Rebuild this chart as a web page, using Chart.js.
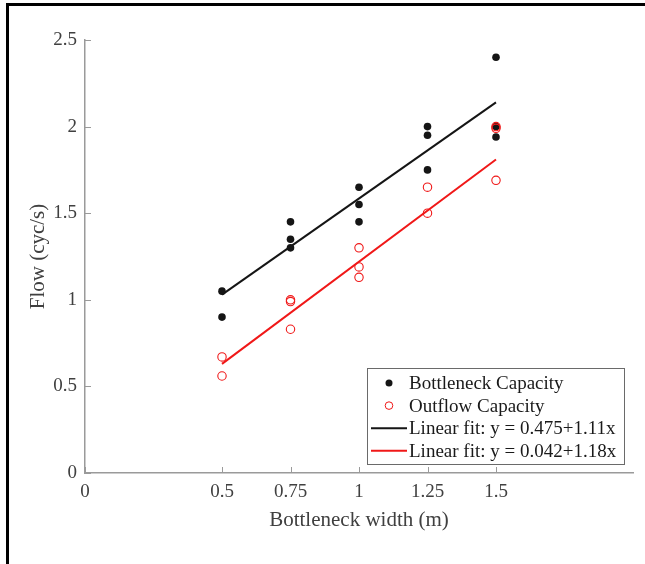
<!DOCTYPE html>
<html>
<head>
<meta charset="utf-8">
<script src="https://cdn.jsdelivr.net/npm/chart.js@4"></script>
<style>
  html, body { margin: 0; padding: 0; background: #fff; }
  #wrap { position: relative; width: 645px; height: 564px; overflow: hidden; }
  #frame { position: absolute; left: 6px; top: 3px; width: 700px; height: 700px;
           border-top: 3px solid #000; border-left: 3px solid #000; pointer-events: none; }
</style>
</head>
<body>
<div id="wrap">
  <canvas id="chart" width="645" height="564"></canvas>
  <div id="frame"></div>
</div>
<script>
// measured points
const bottleneckX = [0.5, 0.5, 0.75, 0.75, 0.75, 1, 1, 1, 1.25, 1.25, 1.25, 1.5, 1.5, 1.5];
const bottleneckY = [1.05, 0.90, 1.45, 1.35, 1.30, 1.65, 1.55, 1.45, 2.00, 1.95, 1.75, 2.40, 2.00, 1.94];
const outflowX = [0.5, 0.5, 0.75, 0.75, 0.75, 1, 1, 1, 1.25, 1.25, 1.5, 1.5, 1.5];
const outflowY = [0.67, 0.56, 1.00, 0.99, 0.83, 1.30, 1.19, 1.13, 1.65, 1.50, 2.00, 1.99, 1.69];

// fit line end points
const fitX = [0.5, 1.5];
const fitBottleneckY = [1.03, 2.14];
const fitOutflowY = [0.63, 1.81];

const xTicks = [0, 0.5, 0.75, 1, 1.25, 1.5];
const yTicks = [0, 0.5, 1, 1.5, 2, 2.5];

const legendLabels = ['Bottleneck Capacity', 'Outflow Capacity',
                      'Linear fit: y = 0.475+1.11x', 'Linear fit: y = 0.042+1.18x'];

const FONT = '"Liberation Serif", "Times New Roman", serif';
const textColor = '#404040';
const axisColor = '#9a9a9a';
const red = '#f01818';
const black = '#151515';

function toPoints(xs, ys) {
    return xs.map((x, i) => ({ x: x, y: ys[i] }));
}

// ticks drawn on the inside of the axes, MATLAB style
const innerTicks = {
    id: 'innerTicks',
    afterDraw(chart) {
        const ctx = chart.ctx;
        const xs = chart.scales.x, ys = chart.scales.y;
        const a = chart.chartArea;
        ctx.save();
        ctx.strokeStyle = axisColor;
        ctx.lineWidth = 1;
        xTicks.forEach(v => {
            const px = Math.round(xs.getPixelForValue(v)) + 0.5;
            ctx.beginPath();
            ctx.moveTo(px, a.bottom);
            ctx.lineTo(px, a.bottom - 6);
            ctx.stroke();
        });
        yTicks.forEach(v => {
            const py = Math.round(ys.getPixelForValue(v)) + 0.5;
            ctx.beginPath();
            ctx.moveTo(a.left, py);
            ctx.lineTo(a.left + 6, py);
            ctx.stroke();
        });
        ctx.restore();
    }
};

const boxLegend = {
    id: 'boxLegend',
    afterDraw(chart) {
        const ctx = chart.ctx;
        const a = chart.chartArea;
        const left = a.right - 266, top = a.bottom - 105, w = 257, h = 96;
        ctx.save();
        ctx.fillStyle = '#fff';
        ctx.fillRect(left, top, w, h);
        ctx.strokeStyle = '#6a6a6a';
        ctx.lineWidth = 1;
        ctx.strokeRect(left + 0.5, top + 0.5, w, h);
        ctx.font = '19px ' + FONT;
        ctx.textBaseline = 'middle';
        const rowH = 22.6;
        legendLabels.forEach((label, i) => {
            const cy = top + 15 + i * rowH;
            if (i === 0) {
                ctx.beginPath();
                ctx.fillStyle = black;
                ctx.arc(left + 22, cy, 3.5, 0, Math.PI * 2);
                ctx.fill();
            } else if (i === 1) {
                ctx.beginPath();
                ctx.strokeStyle = red;
                ctx.arc(left + 22, cy, 3.8, 0, Math.PI * 2);
                ctx.stroke();
            } else {
                ctx.beginPath();
                ctx.strokeStyle = i === 2 ? black : red;
                ctx.lineWidth = 2;
                ctx.moveTo(left + 4, cy);
                ctx.lineTo(left + 40, cy);
                ctx.stroke();
                ctx.lineWidth = 1;
            }
            ctx.fillStyle = '#1a1a1a';
            ctx.fillText(label, left + 42, cy + 1);
        });
        ctx.restore();
    }
};

const ctx = document.getElementById('chart').getContext('2d');
const chart = new Chart(ctx, {
    type: 'scatter',
    data: {
        datasets: [
            {
                label: legendLabels[2],
                data: toPoints(fitX, fitBottleneckY),
                showLine: true,
                borderColor: black,
                borderWidth: 2,
                pointRadius: 0,
                order: 3
            },
            {
                label: legendLabels[3],
                data: toPoints(fitX, fitOutflowY),
                showLine: true,
                borderColor: red,
                borderWidth: 2,
                pointRadius: 0,
                order: 4
            },
            {
                label: legendLabels[0],
                data: toPoints(bottleneckX, bottleneckY),
                backgroundColor: black,
                borderColor: black,
                borderWidth: 0,
                pointRadius: 3.8,
                order: 2
            },
            {
                label: legendLabels[1],
                data: toPoints(outflowX, outflowY),
                backgroundColor: 'rgba(0,0,0,0)',
                borderColor: red,
                borderWidth: 1.1,
                pointRadius: 4.2,
                order: 1
            }
        ]
    },
    options: {
        responsive: false,
        animation: false,
        layout: { padding: { left: 0, right: 12, top: 40, bottom: 0 } },
        plugins: {
            legend: { display: false },
            tooltip: { enabled: false }
        },
        scales: {
            x: {
                type: 'linear',
                min: 0,
                max: 2,
                afterBuildTicks: s => { s.ticks = xTicks.map(v => ({ value: v })); },
                afterFit: s => { s.height = 91; },
                grid: { display: false, drawTicks: false },
                border: { display: true, color: axisColor, width: 1.5 },
                ticks: {
                    color: textColor,
                    font: { family: FONT, size: 19 },
                    padding: 8,
                    maxRotation: 0,
                    autoSkip: false,
                    callback: v => String(v)
                },
                title: {
                    display: true,
                    text: 'Bottleneck width (m)',
                    color: textColor,
                    font: { family: FONT, size: 21 },
                    padding: { top: 0, bottom: 31 }
                }
            },
            y: {
                type: 'linear',
                min: 0,
                max: 2.5,
                afterBuildTicks: s => { s.ticks = yTicks.map(v => ({ value: v })); },
                afterFit: s => { s.width = 85; },
                grid: { display: false, drawTicks: false },
                border: { display: true, color: axisColor, width: 1.5 },
                ticks: {
                    color: textColor,
                    font: { family: FONT, size: 19 },
                    padding: 8,
                    callback: v => String(v)
                },
                title: {
                    display: true,
                    text: 'Flow (cyc/s)',
                    color: textColor,
                    font: { family: FONT, size: 21 },
                    padding: { top: 26, bottom: 0 }
                }
            }
        }
    },
    plugins: [innerTicks, boxLegend]
});
</script>
</body>
</html>
